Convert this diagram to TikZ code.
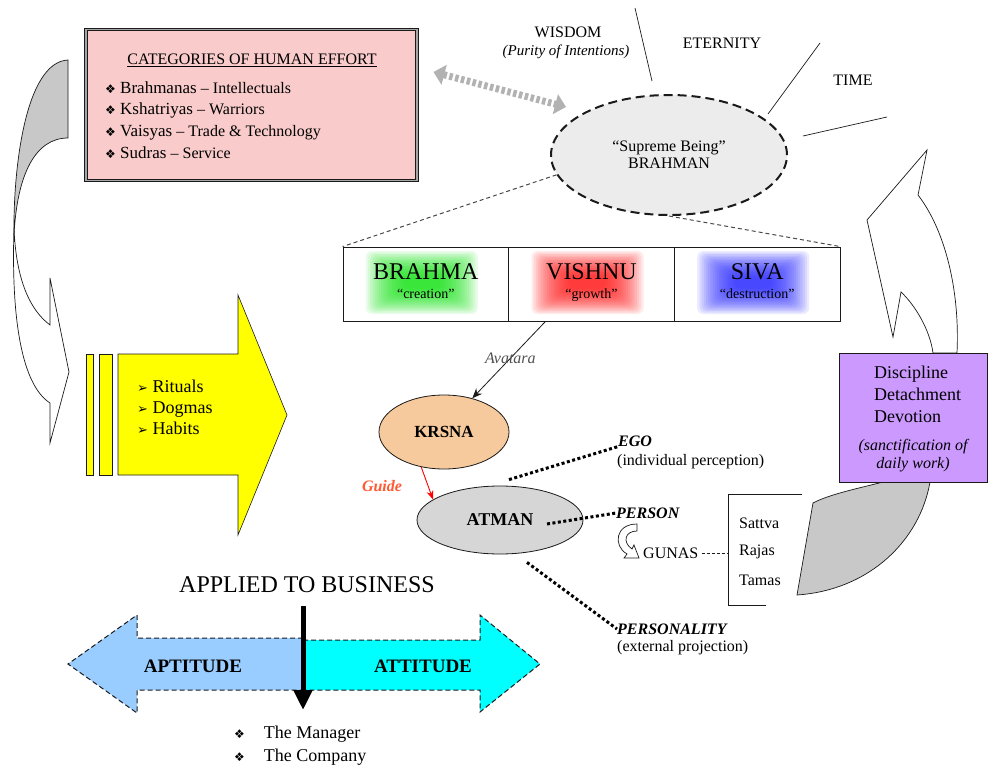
\documentclass[tikz,border=0pt]{standalone}
\usepackage{fontspec}
\setmainfont{Liberation Serif}
\newfontfamily\dingfont{DejaVu Sans}
\usepackage{tikz}
\usetikzlibrary{arrows.meta,shapes.geometric,calc}
\definecolor{ink}{HTML}{1A1A1A}
\definecolor{pinkbg}{HTML}{F9CBCB}
\definecolor{yellowbg}{HTML}{FFFF00}
\definecolor{purplebg}{HTML}{CC99FF}
\definecolor{peachbg}{HTML}{F6CA9C}
\definecolor{bluebg}{HTML}{99CCFF}
\definecolor{cyanbg}{HTML}{00FFFF}
\definecolor{bandgray}{HTML}{C8C8C8}
\definecolor{guidered}{HTML}{FF5A33}
\definecolor{avagray}{HTML}{505050}
\definecolor{glowgreen}{HTML}{10E010}
\definecolor{glowred}{HTML}{FF1010}
\definecolor{glowblue}{HTML}{2020FF}
\newcommand{\dia}{{\dingfont\fontsize{12}{12}\selectfont ❖}}
\newcommand{\rarr}{{\dingfont\fontsize{13}{13}\selectfont ➢}}
\tikzset{
  bandline/.style={draw=ink,line width=0.7pt},
  catbox/.style={draw=ink,double=gray!70,double distance=1.6pt,line width=1pt,
                 fill=pinkbg,minimum width=331,minimum height=151,inner sep=0},
  cattitle/.style={anchor=base,inner sep=0,font=\fontsize{16}{19}\selectfont},
  catitem/.style={anchor=base west,inner sep=0,font=\fontsize{17}{19}\selectfont},
  yelbox/.style={draw=ink,line width=0.6pt,fill=yellowbg},
  yelitem/.style={anchor=base west,inner sep=0,font=\fontsize{18}{21}\selectfont},
  brahmanoval/.style={ellipse,draw=ink,line width=2pt,dash pattern=on 9pt off 5pt,
                      fill=gray!15,minimum width=236,minimum height=120,inner sep=0,
                      align=center,font=\fontsize{16}{17}\selectfont},
  toplabel/.style={inner sep=0,font=\fontsize{16}{19}\selectfont},
  thinline/.style={draw=ink,line width=0.7pt},
  thindash/.style={draw=ink!80,line width=1pt,dash pattern=on 4pt off 3pt},
  grayarr/.style={draw=gray!60,line width=7pt,dash pattern=on 3.5pt off 2.5pt,
                  {Triangle[width=20pt,length=11pt]}-{Triangle[width=20pt,length=11pt]}},
  cell/.style={draw=ink,line width=0.8pt,minimum width=165.7,minimum height=74,
               inner sep=0,path picture={\foreach \k in {0,...,17}{
                 \fill[#1,opacity=0.09,rounded corners=6pt]
                 ([shift={(-60+2.2*\k,30-1.5*\k)}]path picture bounding box.center) rectangle
                 ([shift={(52-2.2*\k,-33+1.5*\k)}]path picture bounding box.center);}}},
  godname/.style={anchor=base,inner sep=0,font=\fontsize{24}{26}\selectfont},
  godword/.style={anchor=base,inner sep=0,font=\fontsize{14}{16}\selectfont},
  krsnaoval/.style={ellipse,draw=ink,line width=0.8pt,fill=peachbg,minimum width=130,
                    minimum height=74,inner sep=0,font=\fontsize{17}{19}\selectfont\bfseries},
  atmanoval/.style={ellipse,draw=ink,line width=0.8pt,fill=gray!32,minimum width=166,
                    minimum height=68,inner sep=0,font=\fontsize{18}{20}\selectfont\bfseries},
  avaarrow/.style={draw=ink,line width=0.8pt,-{Stealth[length=10pt,width=8pt]}},
  avalabel/.style={inner sep=0,text=avagray,font=\fontsize{16}{19}\selectfont\itshape},
  guidearrow/.style={draw=red,line width=0.9pt,-{Stealth[length=9pt,width=7pt]}},
  guidelabel/.style={inner sep=0,text=guidered,font=\fontsize{16}{19}\selectfont\bfseries\itshape},
  dotline/.style={draw=black,line width=3pt,dash pattern=on 3pt off 2.5pt},
  selflabel/.style={anchor=west,inner sep=0,font=\fontsize{16}{19}\selectfont\bfseries\itshape},
  selfnote/.style={anchor=west,inner sep=0,font=\fontsize{16}{19}\selectfont},
  gunaitem/.style={anchor=west,inner sep=0,font=\fontsize{16}{19}\selectfont},
  gunadash/.style={draw=ink,line width=0.8pt,dash pattern=on 3pt off 2pt},
  purplebox/.style={draw=ink,line width=0.8pt,fill=purplebg,minimum width=148,
                    minimum height=129,inner sep=0},
  discitem/.style={anchor=base west,inner sep=0,font=\fontsize{18}{21}\selectfont},
  discnote/.style={anchor=base,inner sep=0,font=\fontsize{16}{19}\selectfont\itshape},
  bizarrow/.style={draw=ink,line width=1pt,dash pattern=on 5pt off 3pt},
  bizlabel/.style={inner sep=0,font=\fontsize{19}{22}\selectfont\bfseries},
  downarr/.style={draw=black,line width=5pt,-{Triangle[width=18pt,length=20pt]}},
  bizitem/.style={anchor=base west,inner sep=0,font=\fontsize{18}{21}\selectfont}
}

\begin{document}
\begin{tikzpicture}[x=1pt,y=-1pt]
  \path[use as bounding box] (0,0) rectangle (993,781);

  % left twisted band arrow
  \draw[bandline,fill=white] (14,228) .. controls (16,280) and (30,310) .. (50,325)
    -- (50,278) -- (69,372) -- (50,443) -- (50,403)
    .. controls (22,385) and (11,320) .. (14,228) -- cycle;
  \draw[bandline,fill=bandgray] (68,60) .. controls (25,62) and (13,170) .. (14,235)
    .. controls (17,175) and (35,138) .. (68,138) -- cycle;

  % categories of human effort
  \node[catbox] (cats) at (251.5,105) {};
  \node[cattitle] (catstitle) at (252,65) {\underline{CATEGORIES OF HUMAN EFFORT}};
  \foreach \who/\job/\yy [count=\i] in {Brahmanas/Intellectuals/94,
      Kshatriyas/Warriors/115,Vaisyas/Trade \& Technology/137,Sudras/Service/158}
    \node[catitem] (cat\i) at (105,\yy) {\dia\ \who\ {\fontsize{16}{18}\selectfont – \job}};

  % rituals arrow
  \draw[yelbox] (86,354) rectangle (93,475);
  \draw[yelbox] (99,354) rectangle (112,475);
  \draw[yelbox] (118,354) -- (238,354) -- (238,295) -- (287,415) -- (238,535)
    -- (238,475) -- (118,475) -- cycle;
  \foreach \w/\yy in {Rituals/392,Dogmas/413,Habits/434}
    \node[yelitem] (\w) at (137,\yy) {\rarr\ \w};

  % brahman
  \node[brahmanoval] (brahman) at (669,155) {“Supreme Being”\\BRAHMAN};
  \node[toplabel] (wisdom) at (568,32) {WISDOM};
  \node[toplabel,font=\fontsize{15}{18}\selectfont\itshape] (purity) at (566,52)
    {(Purity of Intentions)};
  \node[toplabel] (eternity) at (722,43) {ETERNITY};
  \node[toplabel] (time) at (853,80) {TIME};
  \coordinate (wis1) at (635,8);   \coordinate (wis2) at (652,81);
  \coordinate (ete1) at (820,43);  \coordinate (ete2) at (768,114);
  \coordinate (tim1) at (887,117); \coordinate (tim2) at (803,136);
  \draw[thinline] (wis1) -- (wis2);
  \draw[thinline] (ete1) -- (ete2);
  \draw[thinline] (tim1) -- (tim2);
  \draw[grayarr] ([shift={(16,-33)}]cats.east) -- ([shift={(16,-48)}]brahman.west);

  % trimurti
  \foreach \cname/\glow/\cx/\gname/\word in {brahma/glowgreen/425.8/BRAHMA/creation,
      vishnu/glowred/591.5/VISHNU/growth,siva/glowblue/757.2/SIVA/destruction}{
    \node[cell=\glow] (\cname) at (\cx,284) {};
    \node[godname] (\cname-name) at (\cx,279) {\gname};
    \node[godword] (\cname-word) at (\cx,298) {“\word”};
  }
  \draw[thindash] (brahman.190) -- (brahma.north west);
  \draw[thindash] (brahman.south) -- (siva.north east);

  % krsna and atman
  \node[krsnaoval] (krsna) at (444,432) {KRSNA};
  \node[atmanoval] (atman) at (500,520) {ATMAN};
  \draw[avaarrow] ([xshift=-46]vishnu.south) -- node[avalabel,pos=0.48] (avatara) {Avatara}
    (krsna.50);
  \draw[guidearrow] (krsna.237) -- (atman.163);
  \node[guidelabel] (guide) at (382,486) {Guide};

  \node[selflabel] (ego) at (618,441) {EGO};
  \node[selfnote] (egonote) at (617,462) {(individual perception)};
  \node[selflabel] (person) at (616,513) {PERSON};
  \node[selflabel] (personality) at (617,629) {PERSONALITY};
  \node[selfnote] (extnote) at (617,648) {(external projection)};
  \draw[dotline] ([shift={(9,-6)}]atman.north) -- (ego.south west);
  \draw[dotline] ([shift={(47,4)}]atman.center) -- (person.west);
  \draw[dotline] ([shift={(27,8)}]atman.south) -- (personality.west);

  % gunas
  \draw[bandline,fill=white] (637,524) .. controls (615,524) and (613,546) .. (627,554)
    -- (624,558) -- (639,558) -- (634,545) -- (632,549)
    .. controls (622,542) and (625,531) .. (637,531) -- cycle;
  \node[gunaitem] (gunas) at (643,553) {GUNAS};
  \coordinate (bracketmid) at (728,553);
  \draw[gunadash] ([xshift=3]gunas.east) -- (bracketmid);
  \draw[thinline] (802,494) -- (728,494) -- (728,605) -- (766,605);
  \foreach \g/\yy in {Sattva/523,Rajas/552,Tamas/580}
    \node[gunaitem] (\g) at (739,\yy) {\g};

  % right twisted band arrow
  \draw[bandline,fill=white] (933,353) .. controls (930,330) and (915,305) .. (901,292)
    -- (893,337) -- (867,220) -- (927,150) -- (918,195)
    .. controls (945,230) and (960,290) .. (957,353) -- cycle;
  \draw[bandline,fill=bandgray] (883,482) .. controls (860,488) and (830,494) .. (813,503)
    -- (797,595) .. controls (870,590) and (920,540) .. (930,482) -- cycle;
  \node[purplebox] (disc) at (913,417.5) {};
  \foreach \w/\yy [count=\i] in {Discipline/378,Detachment/400,Devotion/422}
    \node[discitem] (disc\i) at (874,\yy) {\w};
  \node[discnote] (sanct) at (913,450) {(sanctification of};
  \node[discnote] (daily) at (913,468) {daily work)};

  % applied to business
  \node[inner sep=0,font=\fontsize{24}{28}\selectfont] (applied) at (307,585)
    {APPLIED TO BUSINESS};
  \filldraw[bizarrow,fill=bluebg] (303,638) -- (137,638) -- (137,615) -- (68,664)
    -- (137,713) -- (137,690) -- (303,690) -- cycle;
  \filldraw[bizarrow,fill=cyanbg] (303,640) -- (480,640) -- (480,615) -- (540,664)
    -- (480,712) -- (480,690) -- (303,690) -- cycle;
  \node[bizlabel] (aptitude) at (193,666) {APTITUDE};
  \node[bizlabel] (attitude) at (423,666) {ATTITUDE};
  \coordinate (downtop) at (303,606);
  \coordinate (downtip) at (303,710);
  \draw[downarr] (downtop) -- (downtip);
  \node[bizitem] (manager) at (234,738) {\dia\hspace{19pt}The Manager};
  \node[bizitem] (company) at (234,761) {\dia\hspace{19pt}The Company};
\end{tikzpicture}
\end{document}
